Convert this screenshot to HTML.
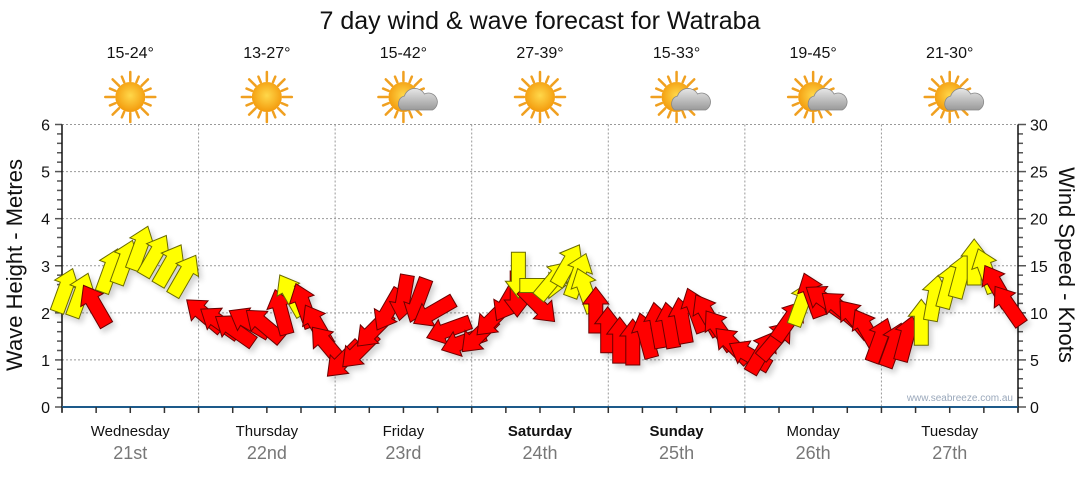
<!DOCTYPE html>
<html><head><meta charset="utf-8"><style>
body{margin:0;background:#fff;font-family:"Liberation Sans","DejaVu Sans",sans-serif}
</style></head><body>
<svg id="c" width="1080" height="475" viewBox="0 0 1080 475" xmlns="http://www.w3.org/2000/svg">
<defs>
<filter id="sh" x="-50%" y="-50%" width="200%" height="200%"><feGaussianBlur in="SourceAlpha" stdDeviation="3"/><feOffset dx="3" dy="4"/><feComponentTransfer><feFuncA type="linear" slope="0.18"/></feComponentTransfer><feMerge><feMergeNode/><feMergeNode in="SourceGraphic"/></feMerge></filter>
<radialGradient id="sun" cx="50%" cy="45%" r="55%"><stop offset="0" stop-color="#ffd84a"/><stop offset="1" stop-color="#f39a0c"/></radialGradient>
<linearGradient id="cl" x1="0" y1="0" x2="0" y2="1"><stop offset="0" stop-color="#e6e6e6"/><stop offset="1" stop-color="#9a9a9a"/></linearGradient>
</defs>
<text x="540" y="29" text-anchor="middle" font-size="25" fill="#111">7 day wind &amp; wave forecast for Watraba</text>
<g id="grid"></g><g id="axes"></g><g id="head"></g><g id="arrows" filter="url(#sh)"></g>
<text x="1013" y="401" text-anchor="end" font-size="10" fill="#9aa8bb">www.seabreeze.com.au</text>
<text transform="translate(22,265) rotate(-90)" text-anchor="middle" font-size="22" fill="#111">Wave Height - Metres</text>
<text transform="translate(1059,265) rotate(90)" text-anchor="middle" font-size="22" fill="#111">Wind Speed - Knots</text>
</svg>
<script>
const days=["Wednesday","Thursday","Friday","Saturday","Sunday","Monday","Tuesday"];
const dates=["21st","22nd","23rd","24th","25th","26th","27th"];
const bold=[false,false,false,true,true,false,false];
const temps=["15-24°","13-27°","15-42°","27-39°","15-33°","19-45°","21-30°"];
const cloudy=[false,false,true,false,true,true,true];
const leftTicks=[0,1,2,3,4,5,6];
const rightTicks=[0,5,10,15,20,25,30];
const hours=[0.5,3.2,5.8,8.4,11,13.7,16.3,18.9,21.5,25,27.7,30.3,32.9,35.5,38.5,40.3,42.5,44.8,46.6,49.5,52.2,54.8,57.4,60,62.6,65.3,67.9,70.5,73.2,75.8,78.4,80,80.2,83.7,84.5,86.3,88.9,90.7,92,93.8,95.9,98,100.3,102.6,104.7,106.8,109,111.3,113.4,115.5,117.8,120.8,123,125.4,127.8,130,131.8,134.1,136.7,139.3,141.4,143.7,146.1,148.4,151,153.3,155.8,158,160.3,162.4,164.2,166.3];
const speed=[12.4,11.9,10.8,14.5,15.4,16.9,16.1,15.1,14,9.8,9,8.2,9,8.7,10.1,11.9,10.8,8.7,6.6,5,6,8.2,10.3,11.6,11.3,10.1,8.2,6.9,7.6,9.4,11.3,12,14,10.8,12.9,13.5,15.1,14,12.4,10.3,8.2,7.1,6.9,7.6,8.7,8.7,9.2,10.3,9.8,8.2,6.6,5.5,5.8,7.1,9.2,11,11.9,11.3,10.5,9.4,8.2,7.1,6.6,7.3,9,11.6,12.9,14,15.4,14.5,12.9,10.8];
const dir=[20,20,-30,20,20,20,30,30,30,-50,-55,-55,-60,-50,-15,-30,-20,-30,-40,225,225,225,210,190,200,240,250,250,225,225,210,180,180,135,90,40,30,20,-20,0,0,0,0,-15,-10,-10,-10,-20,-30,-35,-45,-60,30,40,35,20,-20,-55,-50,-40,-30,20,20,15,0,10,15,15,0,-20,-30,-35];
const col="YYRYYYYYYRRRRRRYRRRRRRRRRRRRRRRRYRYYYYYRRRRRRRRRRRRRRRRYRRRRRRRRYYYYYYR";
const NS="http://www.w3.org/2000/svg";
const X0=62,X1=1018,Y0=407,Y1=124.5,DW=(X1-X0)/7;
const xs=h=>X0+h/24*DW, ym=m=>Y0-(m/6)*(Y0-Y1), yk=k=>Y0-(k/30)*(Y0-Y1);
function mk(p,t,a){const e=document.createElementNS(NS,t);for(const k in a)e.setAttribute(k,a[k]);p.appendChild(e);return e;}
const grid=document.getElementById('grid'),axes=document.getElementById('axes'),head=document.getElementById('head'),arr=document.getElementById('arrows');
leftTicks.forEach(v=>{if(v>0){const g=mk(grid,'line',{x1:X0,x2:X1,y1:ym(v),y2:ym(v),stroke:'#999','stroke-dasharray':'2,2','stroke-width':1});

}
const t=mk(axes,'text',{x:50,y:ym(v)+6,'text-anchor':'end','font-size':16,fill:'#111'});t.textContent=v;

});
for(let i=1;i<7;i++){const g=mk(grid,'line',{x1:X0+i*DW,x2:X0+i*DW,y1:Y1,y2:Y0,stroke:'#999','stroke-dasharray':'2,2'});

}
for(let v=0;v<=6.001;v+=0.2){mk(axes,'line',{x1:v%1<0.01||v%1>0.99?55:57,x2:62,y1:ym(v),y2:ym(v),stroke:'#555','stroke-width':1.5});}
for(let v=0;v<=30;v++){mk(axes,'line',{x1:1018,x2:v%5==0?1026:1023,y1:yk(v),y2:yk(v),stroke:'#555','stroke-width':1.5});}
rightTicks.forEach(v=>{const t=mk(axes,'text',{x:1030,y:yk(v)+6,'font-size':16,fill:'#111'});t.textContent=v;

});
mk(axes,'line',{x1:X0,x2:X0,y1:Y1,y2:Y0+5,stroke:'#111','stroke-width':1.5});
mk(axes,'line',{x1:X1,x2:X1,y1:Y1,y2:Y0+5,stroke:'#111','stroke-width':1.5});
const xa=mk(axes,'line',{x1:X0,x2:X1,y1:Y0,y2:Y0,stroke:'#1d5a8a','stroke-width':2});


for(let q=0;q<=28;q++)mk(axes,'line',{x1:X0+q*DW/4,x2:X0+q*DW/4,y1:Y0,y2:Y0+6,stroke:'#333','stroke-width':1.5});
days.forEach((d,i)=>{const cx=X0+(i+0.5)*DW;
const t=mk(head,'text',{x:cx,y:436,'text-anchor':'middle','font-size':15,fill:'#111','font-weight':bold[i]?'bold':'normal'});t.textContent=d;


const t2=mk(head,'text',{x:cx,y:459,'text-anchor':'middle','font-size':18,fill:'#777'});t2.textContent=dates[i];


const t3=mk(head,'text',{x:cx,y:58,'text-anchor':'middle','font-size':16,fill:'#111'});t3.textContent=temps[i];


const g=mk(head,'g',{transform:`translate(${cx},97)`});


for(let k=0;k<16;k++){const a=k*Math.PI/8;mk(g,'line',{x1:Math.cos(a)*16,y1:Math.sin(a)*16,x2:Math.cos(a)*(k%2?22:25),y2:Math.sin(a)*(k%2?22:25),stroke:'#f0a020','stroke-width':2.5,'stroke-linecap':'round'});}
mk(g,'circle',{cx:0,cy:0,r:15,fill:'url(#sun)'});
if(cloudy[i]){mk(g,'path',{d:'M-2,13 a8,8 0 0 1 3,-14 a11,11 0 0 1 20,-2 a8,8 0 0 1 8,16 z',fill:'url(#cl)',stroke:'#888','stroke-width':0.8});}
});
hours.forEach((h,i)=>{const x=xs(h),y=yk(speed[i]);
const p=mk(arr,'path',{d:'M0,-23 L13,-6 L7,-6 L7,23 L-7,23 L-7,-6 L-13,-6 Z',fill:col[i]=='Y'?'#ffff00':'#ff0000',stroke:col[i]=='Y'?'#6b6b00':'#6b0000','stroke-width':1,transform:`translate(${x.toFixed(1)},${y.toFixed(1)}) rotate(${dir[i]})`});

});
</script>
</body></html>
